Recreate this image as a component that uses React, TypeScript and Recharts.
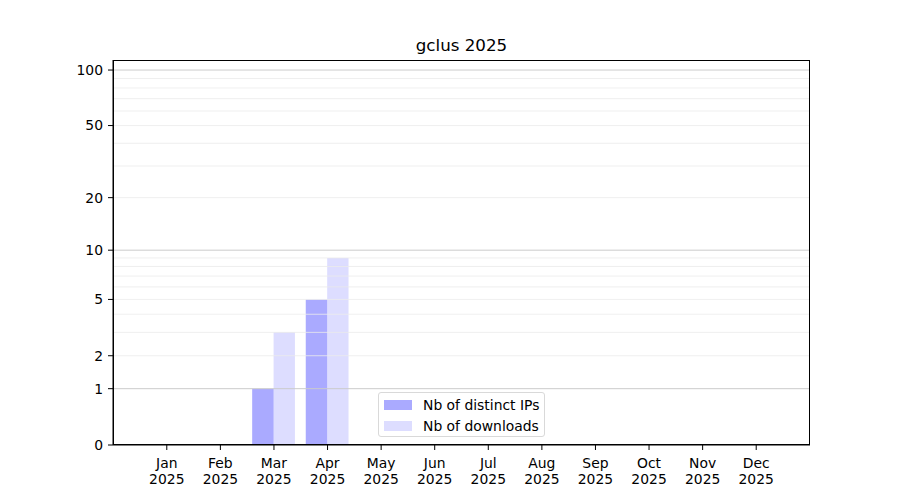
import { BarChart, Bar, XAxis, YAxis, ReferenceLine } from "recharts";

// Monthly stats for the package
const months = ["Jan", "Feb", "Mar", "Apr", "May", "Jun", "Jul", "Aug", "Sep", "Oct", "Nov", "Dec"];
const year = "2025";
const distinctIps = [0, 0, 1, 5, 0, 0, 0, 0, 0, 0, 0, 0];
const downloads = [0, 0, 3, 9, 0, 0, 0, 0, 0, 0, 0, 0];

// y axis (log(1 + x) scale)
const yTicks = [0, 1, 2, 5, 10, 20, 50, 100];
const majorGrid = [1, 10, 100];
const minorGrid = [2, 3, 4, 5, 6, 7, 8, 9, 20, 30, 40, 50, 60, 70, 80, 90];

const toScale = (v: number) => Math.log10(1 + v);

const FONT = "'DejaVu Sans', sans-serif";

const chartData = months.map((m, i) => ({
  month: m,
  ips: toScale(distinctIps[i]),
  downloads: toScale(downloads[i]),
}));

function MonthTick({ x, y, payload }: any) {
  return (
    <g transform={`translate(${x},${y})`}>
      <text textAnchor="middle" fontFamily={FONT} fontSize={13.9} fill="#000">
        <tspan x={0} dy={16}>{payload.value}</tspan>
        <tspan x={0} dy={16}>{year}</tspan>
      </text>
    </g>
  );
}

function LegendBox() {
  const items = [
    { name: "Nb of distinct IPs", opacity: 0.333 },
    { name: "Nb of downloads", opacity: 0.133 },
  ];
  return (
    <div
      style={{
        position: "absolute",
        left: 378,
        top: 392,
        width: 167,
        height: 45,
        boxSizing: "border-box",
        border: "1px solid #d9d9d9",
        borderRadius: 3,
        background: "rgba(255,255,255,0.8)",
        padding: "1px 0 0 5px",
        fontFamily: FONT,
        fontSize: 13.9,
        lineHeight: "20px",
      }}
    >
      {items.map((it) => (
        <div key={it.name} style={{ display: "flex", alignItems: "center", height: 21 }}>
          <div style={{ width: 28, height: 10, background: "blue", opacity: it.opacity, marginRight: 11 }} />
          <span style={{ color: "#000" }}>{it.name}</span>
        </div>
      ))}
    </div>
  );
}

export default function App() {
  return (
    <div style={{ position: "absolute", left: 0, top: 0, width: 900, height: 500, background: "#fff" }}>
      <div
        style={{
          position: "absolute",
          left: 113,
          width: 697,
          top: 35,
          textAlign: "center",
          fontFamily: FONT,
          fontSize: 16.7,
          color: "#000",
        }}
      >
        gclus {year}
      </div>
      <BarChart
        width={900}
        height={500}
        data={chartData}
        margin={{ top: 60, right: 90, bottom: 0, left: 0 }}
        barGap={0}
        barSize={21.4}
      >
        <XAxis
          dataKey="month"
          height={55}
          padding={{ left: 27, right: 27 }}
          tick={<MonthTick />}
          tickSize={5}
          tickLine={{ stroke: "#000" }}
          axisLine={{ stroke: "#000" }}
          interval={0}
        />
        <YAxis
          type="number"
          width={113}
          domain={[0, 2.058]}
          ticks={yTicks.map(toScale)}
          tickFormatter={(v: number) => String(Math.round(Math.pow(10, v) - 1))}
          tick={{ fontFamily: FONT, fontSize: 13.9, fill: "#000" }}
          tickSize={5}
          tickMargin={5}
          tickLine={{ stroke: "#000" }}
          axisLine={{ stroke: "#000" }}
          allowDataOverflow
        />
        {minorGrid.map((v) => (
          <ReferenceLine key={`minor-${v}`} y={toScale(v)} stroke="#ebebeb" strokeWidth={0.8} />
        ))}
        {majorGrid.map((v) => (
          <ReferenceLine key={`major-${v}`} y={toScale(v)} stroke="#cccccc" strokeWidth={1} />
        ))}
        <Bar dataKey="ips" fill="blue" fillOpacity={0.333} isAnimationActive={false} />
        <Bar dataKey="downloads" fill="blue" fillOpacity={0.133} isAnimationActive={false} />
      </BarChart>
      {/* plot frame (top and right spines) */}
      <div
        style={{
          position: "absolute",
          left: 113,
          top: 60,
          width: 697,
          height: 385,
          boxSizing: "border-box",
          border: "1px solid #000",
          pointerEvents: "none",
        }}
      />
      <LegendBox />
    </div>
  );
}
